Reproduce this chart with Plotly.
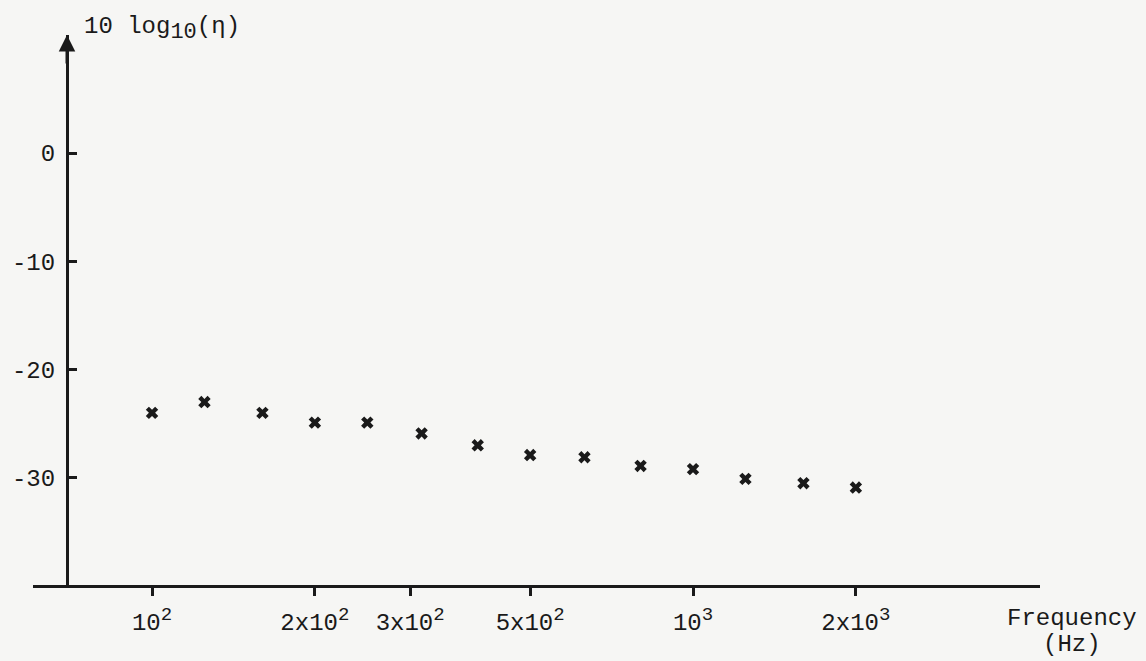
import plotly.graph_objects as go

# Data (1/3-octave centre frequencies, Hz) and measured loss factor (dB)
freq_hz = [100, 125, 160, 200, 250, 315, 400, 500, 630, 800, 1000, 1250, 1600, 2000]
loss_db = [-24.0, -23.0, -24.0, -24.9, -24.9, -25.9, -27.0, -27.9, -28.1, -28.9, -29.2, -30.1, -30.5, -30.9]

SUP = "<sup><span style='font-size:19px'>{}</span></sup>"
x_tick_vals = [100, 200, 300, 500, 1000, 2000]
x_tick_text = ["10" + SUP.format(2), "2x10" + SUP.format(2), "3x10" + SUP.format(2),
               "5x10" + SUP.format(2), "10" + SUP.format(3), "2x10" + SUP.format(3)]
y_tick_vals = [0, -10, -20, -30]
y_tick_text = ["0", "-10", "-20", "-30"]

FONT = "Liberation Mono, Courier New, monospace"
INK = "#1a1a1a"
BG = "#f6f6f4"
FS = 24

fig = go.Figure()
fig.add_trace(go.Scatter(
    x=freq_hz, y=loss_db, mode="markers",
    marker=dict(symbol="x", size=11, color=INK, line=dict(width=0)),
    showlegend=False, hoverinfo="x+y",
))

W, H = 1146, 661
ml, mr, mt, mb = 33, 106, 35, 76
PW = W - ml - mr
yaxis_pos = (67 - ml) / PW

fig.update_layout(
    width=W, height=H,
    margin=dict(l=ml, r=mr, t=mt, b=mb),
    paper_bgcolor=BG, plot_bgcolor=BG,
    font=dict(family=FONT, size=FS, color=INK),
    xaxis=dict(
        type="log", range=[1.780, 3.6414],
        showgrid=False, zeroline=False,
        showline=True, linecolor=INK, linewidth=3,
        ticks="outside", ticklen=8, tickwidth=3, tickcolor=INK,
        tickvals=x_tick_vals, ticktext=x_tick_text,
        tickfont=dict(family=FONT, size=FS, color=INK),
        ticklabelstandoff=5,
    ),
    yaxis=dict(
        range=[-39.9, 10.9],
        anchor="free", position=yaxis_pos,
        showgrid=False, zeroline=False,
        showline=True, linecolor=INK, linewidth=3,
        ticks="inside", ticklen=8, tickwidth=3, tickcolor=INK,
        tickvals=y_tick_vals, ticktext=y_tick_text,
        tickfont=dict(family=FONT, size=FS, color=INK),
        ticklabelstandoff=6,
    ),
)

# Arrow head on top of the y axis
fig.add_annotation(
    xref="paper", yref="paper", x=yaxis_pos, y=1.0,
    ax=0, ay=30, axref="pixel", ayref="pixel",
    text="", showarrow=True, arrowhead=2, arrowsize=1.1, arrowwidth=3, arrowcolor=INK,
)

# Y axis title
fig.add_annotation(
    xref="paper", yref="paper", x=(82 - ml) / PW, y=1.0,
    xanchor="left", yanchor="bottom", yshift=-12,
    text="10 log<sub><span style='font-size:22px'>10</span></sub>(η)", showarrow=False,
    font=dict(family=FONT, size=FS, color=INK),
)

# X axis title (two lines)
fig.add_annotation(
    xref="paper", yref="paper", x=(1072 - ml) / PW, y=0,
    xanchor="center", yanchor="middle", yshift=-(618 - (H - mb)),
    text="Frequency", showarrow=False,
    font=dict(family=FONT, size=FS, color=INK),
)
fig.add_annotation(
    xref="paper", yref="paper", x=(1072 - ml) / PW, y=0,
    xanchor="center", yanchor="middle", yshift=-(644 - (H - mb)),
    text="(Hz)", showarrow=False,
    font=dict(family=FONT, size=FS, color=INK),
)

fig.write_html(
    "out.html",
    config={"displayModeBar": False},
    post_script="document.body.style.margin='0';document.body.style.background='%s';" % BG,
)
